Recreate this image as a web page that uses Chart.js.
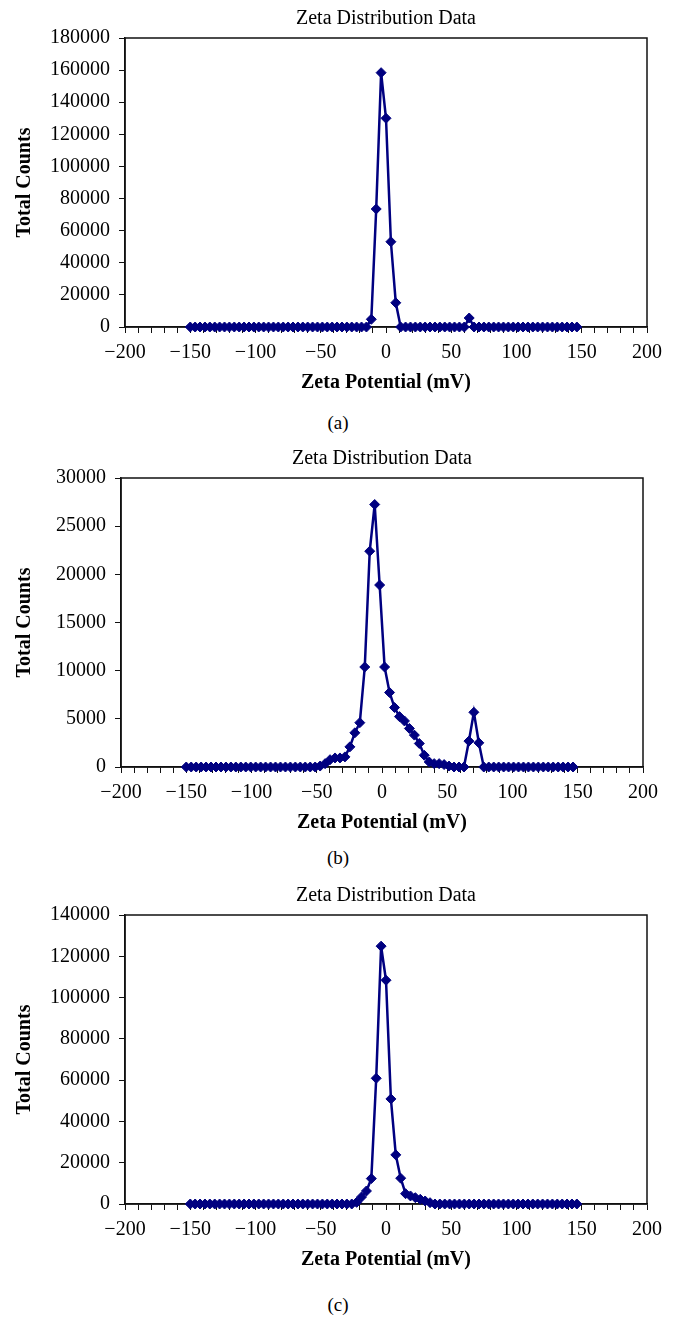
<!DOCTYPE html>
<html>
<head>
<meta charset="utf-8">
<script src="https://cdn.jsdelivr.net/npm/chart.js@4.4.0/dist/chart.umd.min.js"></script>
<style>
  body { margin: 0; background: #fff; }
  #page { position: relative; width: 676px; height: 1343px; font-family: 'Liberation Serif', 'DejaVu Serif', serif; }
  canvas { position: absolute; left: 0; }
  .cap { position: absolute; left: 0; width: 676px; text-align: center; font-size: 19px; line-height: 22px; color: #000; }
</style>
</head>
<body>
<div id="page">
  <canvas id="chartA" width="676" height="400" style="top:0px"></canvas>
  <div class="cap" style="top:412px">(a)</div>
  <canvas id="chartB" width="676" height="400" style="top:440px"></canvas>
  <div class="cap" style="top:847px">(b)</div>
  <canvas id="chartC" width="676" height="400" style="top:877px"></canvas>
  <div class="cap" style="top:1294px">(c)</div>
</div>
<script>
// zeta potential bins (mV)
const zetaBinsA = [
  -150, -146.25, -142.5, -138.75, -135, -131.25, -127.5, -123.75, -120, -116.25,
  -112.5, -108.75, -105, -101.25, -97.5, -93.75, -90, -86.25, -82.5, -78.75,
  -75, -71.25, -67.5, -63.75, -60, -56.25, -52.5, -48.75, -45, -41.25,
  -37.5, -33.75, -30, -26.25, -22.5, -18.75, -15, -11.25, -7.5, -3.75,
  0, 3.75, 7.5, 11.25, 15, 18.75, 22.5, 26.25, 30, 33.75,
  37.5, 41.25, 45, 48.75, 52.5, 56.25, 60, 63.75, 67.5, 71.25,
  75, 78.75, 82.5, 86.25, 90, 93.75, 97.5, 101.25, 105, 108.75,
  112.5, 116.25, 120, 123.75, 127.5, 131.25, 135, 138.75, 142.5, 146.25
];
const zetaBinsB = [
  -150, -146.2, -142.4, -138.6, -134.8, -131, -127.2, -123.4, -119.6, -115.8,
  -112, -108.2, -104.4, -100.6, -96.8, -93, -89.2, -85.4, -81.6, -77.8,
  -74, -70.2, -66.4, -62.6, -58.8, -55, -51.2, -47.4, -43.6, -39.8,
  -36, -32.2, -28.4, -24.6, -20.8, -17, -13.2, -9.4, -5.6, -1.8,
  2, 5.8, 9.6, 13.4, 17.2, 21, 24.8, 28.6, 32.4, 36.2,
  40, 43.8, 47.6, 51.4, 55.2, 59, 62.8, 66.6, 70.4, 74.2,
  78, 81.8, 85.6, 89.4, 93.2, 97, 100.8, 104.6, 108.4, 112.2,
  116, 119.8, 123.6, 127.4, 131.2, 135, 138.8, 142.6, 146.4
];

// total counts
const countsA = [
  0, 0, 0, 0, 0, 0, 0, 0, 0, 0,
  0, 0, 0, 0, 0, 0, 0, 0, 0, 0,
  0, 0, 0, 0, 0, 0, 0, 0, 0, 0,
  0, 0, 0, 0, 0, 0, 0, 4800, 73500, 158400,
  130000, 53100, 15100, 0, 0, 0, 0, 0, 0, 0,
  0, 0, 0, 0, 0, 0, 0, 5600, 0, 0,
  0, 0, 0, 0, 0, 0, 0, 0, 0, 0,
  0, 0, 0, 0, 0, 0, 0, 0, 0, 0
];
const countsB = [
  0, 0, 0, 0, 0, 0, 0, 0, 0, 0,
  0, 0, 0, 0, 0, 0, 0, 0, 0, 0,
  0, 0, 0, 0, 0, 0, 0, 100, 350, 760,
  940, 940, 1050, 2090, 3550, 4600, 10380, 22400, 27250, 18890,
  10380, 7735, 6170, 5230, 4780, 4000, 3310, 2440, 1220, 520,
  350, 350, 250, 100, 0, 0, 0, 2690, 5680, 2510,
  0, 0, 0, 0, 0, 0, 0, 0, 0, 0,
  0, 0, 0, 0, 0, 0, 0, 0, 0
];
const countsC = [
  0, 0, 0, 0, 0, 0, 0, 0, 0, 0,
  0, 0, 0, 0, 0, 0, 0, 0, 0, 0,
  0, 0, 0, 0, 0, 0, 0, 0, 0, 0,
  0, 0, 0, 0, 800, 3400, 6300, 12300, 60900, 124900,
  108400, 50900, 23800, 12500, 5000, 3900, 3060, 2280, 1460, 630,
  0, 0, 0, 0, 0, 0, 0, 0, 0, 0,
  0, 0, 0, 0, 0, 0, 0, 0, 0, 0,
  0, 0, 0, 0, 0, 0, 0, 0, 0, 0
];

const chartTitle = "Zeta Distribution Data";
const xTitle = "Zeta Potential (mV)";
const yTitle = "Total Counts";
const serif = "'Liberation Serif', 'DejaVu Serif', serif";

Chart.defaults.font.family = serif;
Chart.defaults.color = "#000";

// box round the plot area, title centred over it
const frame = {
  id: "frame",
  beforeDatasetsDraw(chart) {
    const { ctx, chartArea: a } = chart;
    ctx.save();
    ctx.strokeStyle = "#111";
    ctx.lineWidth = 1.5;
    ctx.strokeRect(a.left, a.top, a.right - a.left, a.bottom - a.top);
    ctx.restore();
  },
  afterDraw(chart) {
    const { ctx, chartArea: a } = chart;
    ctx.save();
    ctx.fillStyle = "#000";
    ctx.font = "20px " + serif;
    ctx.textAlign = "center";
    ctx.textBaseline = "middle";
    ctx.fillText(chartTitle, (a.left + a.right) / 2, a.top - 19);
    ctx.restore();
  }
};

function fmt(v) {
  return v < 0 ? "\u2212" + Math.abs(v) : String(v);
}

function makeChart(id, bins, counts, yMax, yStep, plotLeft) {
  const pts = bins.map((x, i) => ({ x: x, y: counts[i] }));
  return new Chart(document.getElementById(id), {
    type: "line",
    data: {
      datasets: [{
        data: pts,
        borderColor: "#000080",
        backgroundColor: "#000080",
        borderWidth: 2.5,
        pointStyle: "rectRot",
        pointRadius: 5,
        pointBorderWidth: 1,
        tension: 0,
        clip: false
      }]
    },
    options: {
      responsive: false,
      animation: false,
      devicePixelRatio: 1,
      layout: { padding: { left: 0, right: 676 - plotLeft - 522, top: 38, bottom: 1 } },
      plugins: {
        legend: { display: false },
        tooltip: { enabled: false },
        title: { display: false }
      },
      scales: {
        x: {
          type: "linear",
          min: -200,
          max: 200,
          afterFit: s => { s.height = 72; },
          border: { display: true, color: "#111", width: 1.5 },
          grid: { drawOnChartArea: false, drawTicks: true, tickLength: 6, color: "#111" },
          ticks: {
            stepSize: 10,
            autoSkip: false,
            maxRotation: 0,
            padding: 8,
            font: { size: 20 },
            callback: v => (v % 50 === 0 ? fmt(v) : "")
          },
          title: {
            display: true,
            text: xTitle,
            font: { size: 20, weight: "bold" },
            padding: { top: 4, bottom: 4 }
          }
        },
        y: {
          min: 0,
          max: yMax,
          afterFit: s => { s.width = plotLeft; },
          border: { display: true, color: "#111", width: 1.5 },
          grid: { drawOnChartArea: false, drawTicks: true, tickLength: 6, color: "#111" },
          ticks: {
            stepSize: yStep,
            padding: 9,
            font: { size: 20 },
            callback: v => String(v)
          },
          title: {
            display: true,
            text: yTitle,
            font: { size: 20, weight: "bold" },
            padding: { top: 13, bottom: 0 }
          }
        }
      }
    },
    plugins: [frame]
  });
}

makeChart("chartA", zetaBinsA, countsA, 180000, 20000, 125);
makeChart("chartB", zetaBinsB, countsB, 30000, 5000, 121);
makeChart("chartC", zetaBinsA, countsC, 140000, 20000, 125);
</script>
</body>
</html>
